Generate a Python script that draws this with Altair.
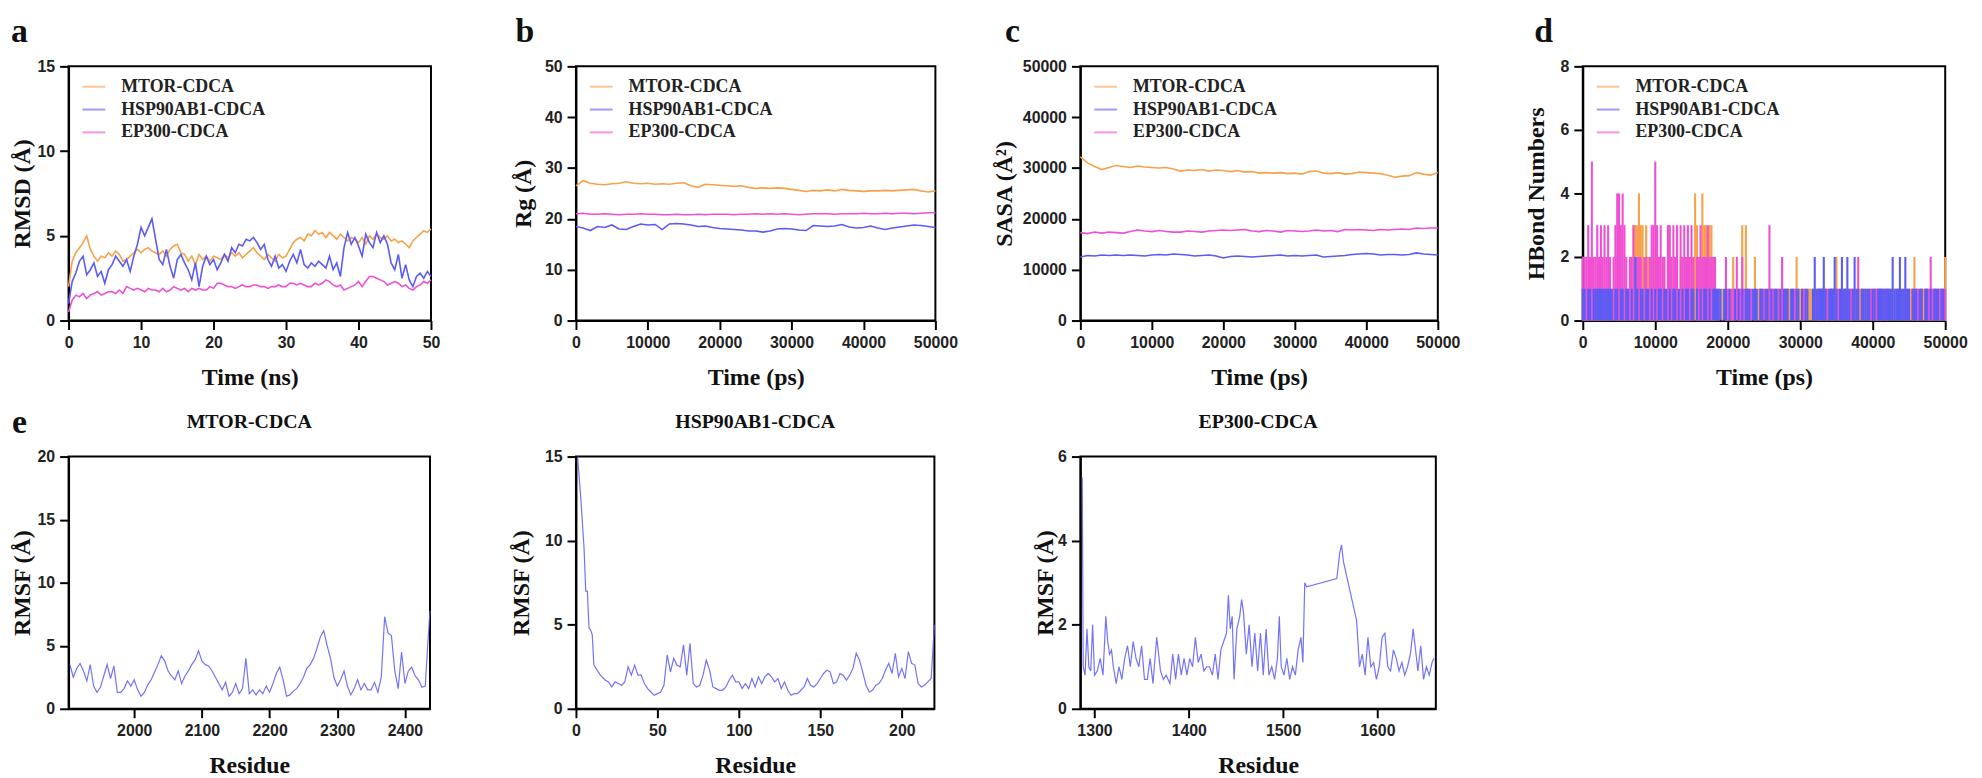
import altair as alt
import pandas as pd

SERIES = ["MTOR-CDCA", "HSP90AB1-CDCA", "EP300-CDCA"]
COLORS = ["#F7A24B", "#5B5BF5", "#F04FD3"]
SERIF = "Liberation Serif"
SANS = "Liberation Sans"

# ---------------- a: RMSD (ns, every 0.5 ns) ----------------
rmsd_mtor = [2.0, 3.5, 4.0, 4.3, 4.6, 5.0, 4.2, 3.8, 3.5, 3.8,
             3.7, 4.0, 3.8, 4.1, 3.9, 3.5, 3.6, 3.8, 4.0, 4.2,
             4.0, 4.2, 4.3, 4.1, 4.0, 3.9, 4.1, 3.8, 4.2, 4.4,
             4.5, 4.0, 3.9, 3.5, 3.8, 3.3, 3.9, 3.6, 3.8, 3.5,
             3.8, 3.7, 3.6, 3.9, 3.7, 4.0, 3.8, 4.0, 3.7, 3.9,
             4.1, 4.3, 4.0, 3.8, 3.6, 3.9, 3.7, 3.5, 3.9, 3.7,
             3.8, 4.2, 4.6, 4.8, 4.9, 4.7, 5.1, 5.0, 5.3, 5.1,
             5.2, 4.9, 5.2, 5.0, 4.8, 5.1, 4.9, 4.7, 4.9, 4.8,
             4.6, 4.9, 4.5, 5.0, 4.8, 5.1, 4.9, 4.8, 5.0, 4.7,
             4.8, 4.6, 4.7, 4.5, 4.3, 4.7, 4.9, 5.1, 5.3, 5.2,
             5.4]
rmsd_hsp = [1.0, 2.3, 2.8, 3.5, 3.8, 2.7, 3.0, 3.4, 2.6, 2.9,
            2.2, 3.0, 3.3, 3.8, 3.5, 3.2, 3.6, 2.9, 3.8, 4.5,
            5.5, 5.0, 5.5, 6.0, 4.8, 3.6, 3.3, 4.2, 3.2, 2.5,
            3.6, 3.9, 3.4, 3.0, 2.4, 3.4, 2.0, 3.2, 3.8, 3.3,
            3.6, 3.0, 3.4, 3.9, 3.5, 4.3, 4.0, 4.5, 4.4, 4.8,
            4.7, 4.9, 4.6, 4.2, 4.5, 3.6, 3.2, 3.8, 3.1, 3.3,
            2.9, 3.5, 3.9, 3.4, 4.2, 3.3, 3.1, 3.4, 3.2, 3.5,
            3.3, 3.1, 3.8, 3.0, 3.4, 2.6, 4.3, 5.2, 4.5, 4.9,
            4.4, 3.8, 5.1, 4.6, 4.3, 5.2, 4.6, 5.0, 4.5, 3.4,
            3.0, 3.9, 2.5, 3.3, 2.4, 2.0, 2.6, 2.8, 2.5, 2.9,
            2.6]
rmsd_ep = [0.5, 1.2, 1.5, 1.4, 1.6, 1.3, 1.5, 1.6, 1.7, 1.5,
           1.6, 1.7, 1.7, 1.6, 1.8, 1.6, 2.0, 1.9, 1.8, 1.9,
           1.8, 1.7, 1.9, 1.8, 1.8, 1.7, 1.9, 1.7, 1.8, 2.0,
           1.9, 1.8, 1.9, 1.7, 1.9, 1.8, 1.9, 1.8, 1.8, 2.0,
           1.9, 2.2, 2.2, 2.1, 2.0, 2.0, 1.9, 2.0, 2.1, 2.0,
           2.0, 2.1, 2.1, 2.0, 2.0, 1.9, 2.0, 2.0, 2.1, 2.0,
           2.0, 2.2, 2.2, 2.1, 2.2, 2.1, 2.0, 2.0, 2.2, 2.1,
           2.2, 2.4, 2.3, 2.1, 2.0, 2.1, 1.8, 1.9, 2.0, 2.1,
           2.3, 2.0, 2.3, 2.6, 2.6, 2.5, 2.4, 2.3, 2.1, 2.2,
           2.3, 2.2, 2.0, 2.1, 1.9, 1.8, 2.0, 2.1, 2.3, 2.2,
           2.4]

# ---------------- b: Rg (ps, every 1000 ps) ----------------
rg_mtor = [26.5, 27.5, 27.0, 26.8, 26.7, 26.9, 27.0, 27.3, 27.0, 26.9,
           27.0, 26.8, 26.9, 26.8, 27.0, 27.1, 26.5, 26.2, 26.8, 26.7,
           26.6, 26.5, 26.4, 26.5, 26.2, 26.0, 26.1, 26.0, 26.1, 26.0,
           25.8, 25.6, 25.4, 25.6, 25.5, 25.7, 25.5, 25.8, 25.6, 25.5,
           25.4, 25.5, 25.5, 25.6, 25.5, 25.6, 25.7, 25.8, 25.5, 25.3,
           25.5]
rg_hsp = [18.5, 18.2, 17.7, 18.5, 18.3, 18.8, 18.0, 17.9, 18.5, 19.0,
          18.8, 18.9, 17.9, 19.0, 19.1, 19.0, 18.8, 18.5, 18.6, 18.3,
          18.1, 18.0, 17.9, 17.8, 17.6, 17.6, 17.4, 17.6, 18.0, 18.1,
          18.0, 17.8, 17.7, 18.7, 18.6, 18.5, 18.6, 18.9, 18.4, 18.2,
          18.3, 18.6, 18.2, 17.9, 18.2, 18.4, 18.6, 18.8, 18.7, 18.5,
          18.3]
rg_ep = [21.0, 21.1, 20.9, 20.9, 21.0, 20.9, 20.8, 20.9, 20.9, 21.0,
         20.9, 20.9, 20.8, 20.8, 20.9, 20.8, 20.8, 20.9, 20.8, 20.9,
         20.9, 20.9, 20.8, 20.9, 20.9, 21.0, 20.9, 21.0, 20.9, 21.0,
         20.9, 20.8, 20.9, 21.0, 21.0, 21.0, 20.9, 21.0, 21.0, 21.0,
         21.1, 21.0, 21.0, 21.1, 21.0, 21.1, 21.1, 21.0, 21.1, 21.2,
         21.2]

# ---------------- c: SASA (ps, every 1000 ps) ----------------
sasa_mtor = [32200, 31000, 30300, 29700, 30100, 30500, 30300, 30100, 30400, 30200,
             30100, 30000, 30100, 29800, 29400, 29600, 29500, 29700, 29400, 29600,
             29500, 29300, 29500, 29200, 29300, 29000, 29100, 29000, 29100, 28900,
             29000, 28800, 29300, 29400, 29000, 28900, 29100, 28800, 28900, 29200,
             29100, 29000, 28900, 28600, 28200, 28400, 28500, 29100, 28800, 28600,
             29100]
sasa_hsp = [12500, 12800, 12700, 12900, 12800, 12900, 12800, 12900, 12800, 12700,
            12900, 13000, 12900, 13100, 13000, 12900, 12700, 12800, 12900, 12700,
            12300, 12600, 12700, 12600, 12500, 12600, 12700, 12800, 12900, 12700,
            12800, 12700, 12800, 12900, 12500, 12600, 12700, 12800, 13000, 13100,
            13200, 13100, 12900, 13000, 13000, 12900, 13000, 13300, 13100, 13000,
            12900]
sasa_ep = [17300, 17100, 17400, 17200, 17400, 17300, 17200, 17500, 17800, 17600,
           17500, 17700, 17500, 17400, 17400, 17600, 17500, 17400, 17600, 17700,
           17800, 17700, 17800, 17900, 17600, 17500, 17700, 17600, 17400, 17700,
           17600, 17500, 17600, 17800, 17600, 17700, 17500, 17900, 17800, 17900,
           17800, 17700, 17900, 17800, 17900, 18000, 17900, 18200, 18100, 18200,
           18200]

# ---------------- d: HBond numbers (ps, every 250 ps) ----------------
hb_mtor = [1, 1, 1, 1, 1, 2, 1, 1, 1, 1,
           1, 1, 1, 1, 1, 1, 1, 1, 1, 2,
           2, 1, 1, 1, 1, 1, 1, 1, 3, 3,
           3, 4, 3, 3, 2, 3, 2, 1, 2, 1,
           2, 2, 1, 1, 1, 2, 1, 2, 2, 1,
           1, 2, 1, 1, 2, 2, 1, 1, 2, 1,
           2, 2, 4, 3, 2, 2, 4, 3, 3, 2,
           3, 3, 2, 1, 1, 1, 0, 1, 0, 1,
           1, 1, 1, 2, 1, 0, 1, 1, 3, 1,
           3, 1, 1, 1, 0, 2, 1, 1, 1, 1,
           0, 1, 1, 1, 1, 1, 1, 1, 1, 1,
           2, 1, 1, 1, 1, 1, 1, 1, 2, 1,
           1, 1, 1, 1, 1, 1, 1, 1, 1, 1,
           1, 1, 1, 1, 1, 1, 1, 1, 1, 1,
           2, 1, 1, 1, 1, 1, 1, 1, 1, 1,
           1, 1, 1, 1, 1, 1, 1, 1, 1, 1,
           1, 1, 1, 1, 1, 1, 1, 1, 1, 1,
           1, 1, 1, 1, 1, 1, 1, 1, 1, 1,
           1, 1, 1, 2, 1, 1, 1, 1, 1, 1,
           1, 1, 1, 1, 1, 1, 1, 1, 1, 1,
           2]
hb_hsp = [1, 1, 0, 1, 1, 0, 1, 1, 1, 1,
          1, 1, 1, 1, 1, 1, 1, 0, 1, 1,
          0, 1, 1, 0, 1, 1, 0, 1, 0, 2,
          1, 0, 1, 1, 0, 1, 1, 0, 1, 0,
          1, 0, 1, 1, 0, 1, 1, 0, 1, 0,
          1, 1, 0, 1, 0, 1, 0, 1, 1, 0,
          1, 1, 0, 1, 0, 1, 0, 1, 1, 0,
          1, 0, 1, 1, 1, 1, 1, 0, 1, 1,
          0, 1, 0, 0, 1, 0, 1, 0, 1, 0,
          1, 1, 1, 0, 1, 1, 1, 0, 1, 1,
          0, 1, 1, 0, 1, 0, 1, 1, 0, 1,
          0, 1, 1, 1, 0, 1, 1, 0, 1, 1,
          0, 1, 0, 1, 1, 0, 0, 1, 2, 1,
          1, 1, 1, 2, 1, 0, 1, 1, 1, 2,
          1, 0, 1, 2, 1, 1, 2, 1, 0, 1,
          2, 1, 1, 0, 1, 1, 1, 1, 1, 0,
          1, 1, 0, 1, 1, 1, 1, 1, 1, 1,
          1, 2, 1, 1, 1, 2, 1, 1, 2, 1,
          1, 0, 1, 1, 1, 0, 1, 1, 0, 1,
          1, 0, 1, 0, 1, 1, 1, 0, 1, 1,
          0]
hb_ep = [2, 2, 2, 3, 2, 5, 2, 2, 3, 2,
         3, 2, 3, 2, 3, 2, 0, 2, 3, 4,
         4, 3, 4, 3, 2, 0, 2, 2, 3, 0,
         2, 2, 2, 0, 2, 2, 0, 2, 3, 3,
         5, 3, 2, 3, 2, 2, 0, 3, 3, 2,
         3, 2, 3, 0, 3, 2, 3, 2, 3, 2,
         3, 2, 0, 2, 2, 3, 2, 2, 2, 3,
         2, 2, 2, 2, 0, 0, 0, 0, 0, 2,
         1, 0, 1, 1, 0, 2, 1, 1, 2, 1,
         1, 1, 0, 1, 0, 1, 0, 0, 1, 0,
         1, 0, 0, 3, 1, 1, 0, 0, 1, 0,
         2, 0, 0, 1, 0, 0, 0, 1, 0, 0,
         0, 0, 1, 0, 0, 0, 0, 0, 0, 0,
         1, 1, 1, 0, 1, 1, 0, 1, 1, 0,
         0, 1, 0, 0, 0, 1, 0, 0, 1, 0,
         0, 0, 2, 0, 1, 0, 0, 0, 0, 1,
         0, 1, 1, 1, 1, 1, 0, 1, 1, 0,
         0, 0, 0, 0, 1, 0, 0, 0, 1, 0,
         1, 0, 1, 0, 1, 1, 0, 1, 0, 1,
         1, 1, 2, 1, 1, 0, 1, 1, 1, 1,
         1]

# ---------------- e: RMSF ----------------
e1_res = list(range(1905, 2431, 5)) + [2433, 2437]
e1_rmsf = [3.5, 2.5, 3.2, 3.6, 3.0, 2.2, 3.5, 1.8, 1.3, 1.7,
           2.6, 3.5, 2.4, 3.4, 1.3, 1.3, 1.6, 2.2, 1.8, 2.3,
           1.5, 1.0, 1.3, 1.9, 2.3, 2.9, 3.5, 4.2, 3.8, 3.0,
           2.6, 2.3, 3.0, 2.0, 2.6, 3.0, 3.5, 3.9, 4.6, 3.8,
           3.5, 3.4, 3.0, 2.5, 2.0, 1.5, 2.1, 1.0, 1.3, 2.0,
           1.2, 1.6, 4.0, 1.2, 1.5, 1.1, 1.5, 1.2, 1.8, 1.3,
           2.0, 2.8, 3.3, 2.3, 1.0, 1.1, 1.4, 1.6, 2.0, 2.5,
           3.2, 3.5, 4.0, 4.8, 5.7, 6.2, 5.0, 4.0, 2.5, 1.8,
           2.3, 3.0, 1.8, 1.1, 1.6, 2.3, 1.5, 2.0, 1.5, 1.5,
           2.1, 1.3, 2.5, 7.3, 6.0, 5.8, 3.0, 1.6, 4.5, 2.0,
           3.0, 3.3, 2.6, 2.3, 1.7, 1.8, 4.5, 7.8]

e2_res = [1, 3, 5, 6, 7, 8, 9, 10, 11, 13, 15, 18, 20, 22, 24, 26, 28, 30, 32, 34,
          36, 38, 40, 42, 44, 46, 48, 50, 52, 54, 56, 58, 60, 62, 64, 66, 68, 70, 72, 74,
          76, 78, 80, 82, 84, 86, 88, 90, 92, 94, 96, 98, 100, 102, 104, 106, 108, 110, 112, 114,
          116, 118, 120, 122, 124, 126, 128, 130, 132, 134, 136, 138, 140, 142, 144, 146, 148, 150, 152, 154,
          156, 158, 160, 162, 164, 166, 168, 170, 172, 174, 176, 178, 180, 182, 184, 186, 188, 190, 192, 194,
          196, 198, 200, 202, 204, 206, 208, 210, 212, 214, 216, 218, 220]
e2_rmsf = [15.0, 12.5, 9.5, 7.0, 7.0, 4.8, 4.7, 4.4, 2.6, 2.3, 2.0, 1.7, 1.6, 1.3, 1.6, 1.5, 1.4, 1.6, 2.5, 2.0,
           2.6, 2.0, 2.0, 1.5, 1.2, 1.0, 0.8, 0.9, 1.0, 1.4, 3.2, 2.2, 3.0, 2.6, 2.5, 3.8, 2.0, 3.9, 1.5, 1.3,
           1.4, 2.0, 2.9, 2.3, 1.3, 1.2, 1.1, 1.1, 1.3, 1.7, 2.0, 1.6, 1.6, 1.2, 1.5, 1.2, 1.8, 1.3, 1.9, 1.5,
           1.9, 2.1, 1.9, 1.6, 1.8, 1.2, 1.6, 1.1, 0.8, 0.9, 0.9, 1.1, 1.3, 1.8, 1.4, 1.3, 1.5, 1.8, 2.1, 2.3,
           2.2, 1.5, 1.6, 2.1, 2.0, 1.7, 2.0, 2.4, 3.3, 2.9, 2.2, 1.4, 1.0, 1.1, 1.4, 1.5, 1.8, 2.3, 2.7, 2.1,
           3.3, 1.9, 2.4, 1.8, 3.4, 2.7, 2.6, 1.5, 1.3, 1.4, 1.6, 1.8, 5.0]

e3_res = [1287, 1288, 1290, 1292, 1294, 1296, 1298, 1300, 1303, 1306, 1309, 1312, 1314, 1316, 1318, 1320,
          1323, 1326, 1329, 1332, 1335, 1338, 1341, 1344, 1347, 1350, 1353, 1356, 1359, 1362, 1366, 1370,
          1373, 1376, 1380, 1383, 1386, 1389, 1392, 1395, 1398, 1401, 1404, 1407, 1410, 1413, 1416, 1419,
          1422, 1425, 1428, 1431, 1434, 1437, 1440, 1442, 1444, 1446, 1448, 1451, 1454, 1456, 1458, 1461,
          1464, 1467, 1470, 1473, 1476, 1479, 1482, 1485, 1488, 1491, 1494, 1496, 1498, 1501, 1504, 1507,
          1510, 1513, 1516, 1519, 1521, 1523, 1525, 1557, 1560, 1562, 1564, 1578, 1581, 1584, 1587, 1590,
          1593, 1596, 1599, 1602, 1605, 1608, 1611, 1614, 1617, 1620, 1623, 1626, 1629, 1632, 1635, 1638,
          1640, 1643, 1646, 1649, 1652, 1655, 1658, 1660]
e3_rmsf = [5.5, 1.0, 0.8, 1.9, 1.0, 0.9, 2.0, 0.8, 0.9, 1.2, 0.8, 2.2, 1.6, 1.3, 1.4, 1.0,
           0.6, 1.0, 0.7, 1.2, 1.5, 1.0, 1.6, 1.2, 1.0, 1.5, 0.7, 0.7, 1.2, 0.6, 1.7, 0.9,
           0.7, 0.8, 0.6, 1.3, 0.7, 1.3, 0.8, 1.2, 0.8, 1.2, 1.0, 1.7, 1.1, 1.3, 0.9, 1.0,
           1.0, 0.8, 1.3, 0.7, 1.4, 1.6, 1.8, 2.7, 1.9, 2.2, 0.7, 1.9, 2.2, 2.6, 2.3, 1.3,
           2.0, 1.0, 1.8, 0.9, 1.8, 0.8, 1.9, 0.8, 1.0, 0.7, 1.2, 2.2, 1.0, 0.8, 1.2, 0.7,
           1.0, 0.8, 1.4, 1.7, 1.1, 3.0, 2.9, 3.1, 3.7, 3.9, 3.5, 2.1, 1.0, 1.3, 0.8, 1.7,
           1.0, 1.1, 0.7, 1.0, 1.7, 1.8, 1.0, 0.9, 1.4, 1.2, 0.9, 1.1, 0.8, 1.0, 1.3, 1.9,
           1.5, 0.9, 1.5, 0.7, 1.0, 0.8, 1.1, 1.2]


def long_df(step, series):
    rows = []
    for name, vals in series:
        for i, v in enumerate(vals):
            rows.append({"t": i * step, "v": v, "s": name})
    return pd.DataFrame(rows)


def color_enc():
    return alt.Color(
        "s:N",
        scale=alt.Scale(domain=SERIES, range=COLORS),
        legend=alt.Legend(
            title=None, orient="none", legendX=13, legendY=8,
            symbolType="stroke", symbolSize=529, symbolStrokeWidth=2, symbolOpacity=0.6,
            labelFont=SERIF, labelFontWeight="bold", labelFontSize=18, labelColor="#222",
            labelOffset=15, rowPadding=1, padding=0, labelLimit=300,
        ),
    )


def xaxis(title, values):
    return alt.Axis(title=title, values=values, format="d", labelFlush=False, titlePadding=15)


def yaxis(title, values, pad):
    return alt.Axis(title=title, values=values, format="d", titlePadding=pad)


def text_at(txt, dx, dy, size, align):
    return alt.Chart(pd.DataFrame({"lab": [txt]})).mark_text(
        font=SERIF, fontWeight="bold", fontSize=size, align=align, baseline="alphabetic", color="#111"
    ).encode(text="lab:N", x=alt.value(dx), y=alt.value(dy))


TICKS_PS = [0, 10000, 20000, 30000, 40000, 50000]

# a
a_df = long_df(0.5, [("MTOR-CDCA", rmsd_mtor), ("HSP90AB1-CDCA", rmsd_hsp), ("EP300-CDCA", rmsd_ep)])
pa = alt.layer(
    alt.Chart(a_df).mark_line(strokeWidth=1.6).encode(
        x=alt.X("t:Q", scale=alt.Scale(domain=[0, 50], nice=False, zero=False),
                axis=xaxis("Time (ns)", [0, 10, 20, 30, 40, 50])),
        y=alt.Y("v:Q", scale=alt.Scale(domain=[0, 15], nice=False),
                axis=yaxis("RMSD (Å)", [0, 5, 10, 15], 3)),
        color=color_enc(),
    ),
    text_at("a", -58, -25, 34, "left"),
).properties(width=365, height=256)

# b
b_df = long_df(1000, [("MTOR-CDCA", rg_mtor), ("HSP90AB1-CDCA", rg_hsp), ("EP300-CDCA", rg_ep)])
pb = alt.layer(
    alt.Chart(b_df).mark_line(strokeWidth=1.6).encode(
        x=alt.X("t:Q", scale=alt.Scale(domain=[0, 50000], nice=False, zero=False),
                axis=xaxis("Time (ps)", TICKS_PS)),
        y=alt.Y("v:Q", scale=alt.Scale(domain=[0, 50], nice=False),
                axis=yaxis("Rg (Å)", [0, 10, 20, 30, 40, 50], 9)),
        color=color_enc(),
    ),
    text_at("b", -61, -25, 34, "left"),
).properties(width=362, height=256)

# c
c_df = long_df(1000, [("MTOR-CDCA", sasa_mtor), ("HSP90AB1-CDCA", sasa_hsp), ("EP300-CDCA", sasa_ep)])
pc = alt.layer(
    alt.Chart(c_df).mark_line(strokeWidth=1.6).encode(
        x=alt.X("t:Q", scale=alt.Scale(domain=[0, 50000], nice=False, zero=False),
                axis=xaxis("Time (ps)", TICKS_PS)),
        y=alt.Y("v:Q", scale=alt.Scale(domain=[0, 50000], nice=False),
                axis=yaxis("SASA (Å²)", [0, 10000, 20000, 30000, 40000, 50000], 6)),
        color=color_enc(),
    ),
    text_at("c", -76, -25, 34, "left"),
).properties(width=360, height=256)

# d  (drawing order: MTOR, EP300, HSP90AB1 on top)
d_df = long_df(250, [("MTOR-CDCA", hb_mtor), ("EP300-CDCA", hb_ep), ("HSP90AB1-CDCA", hb_hsp)])
pdd = alt.layer(
    alt.Chart(d_df).mark_rule(strokeWidth=2.1).encode(
        x=alt.X("t:Q", scale=alt.Scale(domain=[0, 50000], nice=False, zero=False),
                axis=xaxis("Time (ps)", TICKS_PS)),
        y=alt.Y("v:Q", scale=alt.Scale(domain=[0, 8], nice=False),
                axis=yaxis("HBond Numbers", [0, 2, 4, 6, 8], 12)),
        y2=alt.datum(0),
        color=color_enc(),
    ),
    text_at("d", -49, -25, 34, "left"),
).properties(width=365, height=256)


def rmsf_panel(res, vals, name, xdom, xticks, ydom, yticks, ypad, w, extra=None):
    df = pd.DataFrame({"r": res, "v": vals})
    line = alt.Chart(df).mark_line(strokeWidth=1.2, color="#5B5BF5", opacity=0.85).encode(
        x=alt.X("r:Q", scale=alt.Scale(domain=xdom, nice=False, zero=False),
                axis=xaxis("Residue", xticks)),
        y=alt.Y("v:Q", scale=alt.Scale(domain=ydom, nice=False),
                axis=yaxis("RMSF (Å)", yticks, ypad)),
    )
    layers = [line, text_at(name, w / 2, -29, 20, "center")]
    if extra is not None:
        layers.append(extra)
    return alt.layer(*layers).properties(width=w, height=254)


pe1 = rmsf_panel(e1_res, e1_rmsf, "MTOR-CDCA", [1903, 2437], [2000, 2100, 2200, 2300, 2400],
                 [0, 20], [0, 5, 10, 15, 20], 3, 364, extra=text_at("e", -57, -24, 34, "left"))
pe2 = rmsf_panel(e2_res, e2_rmsf, "HSP90AB1-CDCA", [0, 220], [0, 50, 100, 150, 200],
                 [0, 15], [0, 5, 10, 15], 11, 361)
pe3 = rmsf_panel(e3_res, e3_rmsf, "EP300-CDCA", [1285, 1662], [1300, 1400, 1500, 1600],
                 [0, 6], [0, 2, 4, 6], 0, 358)

chart = alt.concat(
    pa, pb, pc, pdd, pe1, pe2, pe3,
    columns=4,
    spacing={"row": 137, "column": 146},
    bounds="flush",
    padding={"left": 1, "top": 3, "right": 5, "bottom": 5},
).resolve_scale(color="independent").configure_view(
    stroke="black", strokeWidth=2
).configure_axis(
    domainColor="black", domainWidth=2, tickColor="black", tickWidth=2, tickSize=9,
    labelFont=SANS, labelFontWeight="bold", labelFontSize=16, labelColor="#222", labelPadding=5,
    titleFont=SERIF, titleFontWeight="bold", titleFontSize=24, titleColor="#111",
    grid=False,
)

chart.save("out.html", embed_options={"renderer": "svg", "actions": False})
